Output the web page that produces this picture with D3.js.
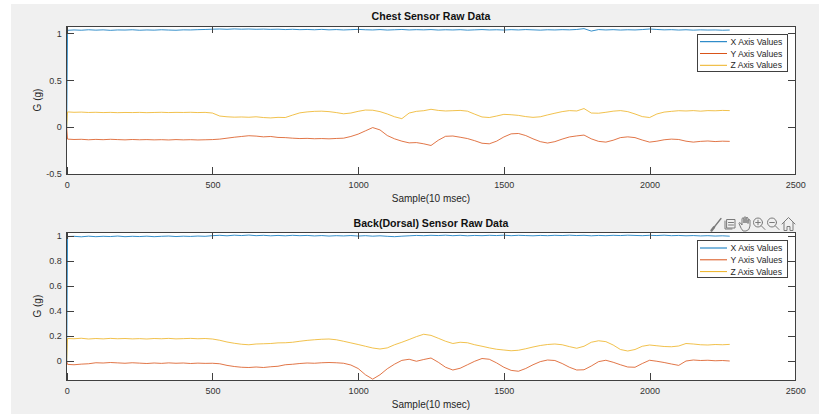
<!DOCTYPE html>
<html>
<head>
<meta charset="utf-8">
<script src="https://cdn.jsdelivr.net/npm/d3@7"></script>
<style>
  body { margin: 0; background: #fff; }
  svg { display: block; font-family: 'Liberation Sans', Arial, sans-serif; }
</style>
</head>
<body>
<div id="chart"></div>
<script>
// Sensor raw data (G), one value per listed sample index
const sampleIdx = [0, 3].concat(d3.range(25, 2276, 25))

const seriesNames = ['X Axis Values', 'Y Axis Values', 'Z Axis Values']
const seriesColors = ['#0072BD', '#D95319', '#EDB120']

const xTicks = [0, 500, 1000, 1500, 2000, 2500]
const chestYTicks = [-0.5, 0, 0.5, 1]
const backYTicks = [0, 0.2, 0.4, 0.6, 0.8, 1]

const chestX = [
  0, 1.032, 1.036, 1.033, 1.038, 1.034, 1.037, 1.032, 1.036, 1.035,
  1.038, 1.033, 1.036, 1.034, 1.038, 1.035, 1.033, 1.037, 1.036, 1.039,
  1.041, 1.044, 1.046, 1.043, 1.047, 1.044, 1.046, 1.043, 1.045, 1.042,
  1.044, 1.040, 1.043, 1.039, 1.041, 1.038, 1.042, 1.037, 1.040, 1.036,
  1.039, 1.042, 1.038, 1.036, 1.040, 1.035, 1.038, 1.041, 1.036, 1.039,
  1.037, 1.040, 1.035, 1.038, 1.036, 1.039, 1.034, 1.037, 1.040, 1.036,
  1.038, 1.035, 1.039, 1.036, 1.040, 1.037, 1.034, 1.038, 1.036, 1.039,
  1.037, 1.041, 1.050, 1.024, 1.040, 1.036, 1.039, 1.035, 1.038, 1.036,
  1.040, 1.046, 1.041, 1.037, 1.039, 1.035, 1.038, 1.034, 1.037, 1.035,
  1.036, 1.033, 1.035
]
const chestY = [
  0, -0.128, -0.132, -0.130, -0.135, -0.131, -0.134, -0.130, -0.133, -0.136,
  -0.132, -0.135, -0.133, -0.136, -0.134, -0.137, -0.133, -0.136, -0.134, -0.137,
  -0.135, -0.133, -0.128, -0.118, -0.108, -0.100, -0.092, -0.096, -0.104, -0.100,
  -0.110, -0.112, -0.118, -0.122, -0.120, -0.124, -0.122, -0.125, -0.121, -0.118,
  -0.100, -0.075, -0.040, -0.005, -0.030, -0.090, -0.125, -0.150, -0.168, -0.165,
  -0.178, -0.196, -0.140, -0.098, -0.095, -0.108, -0.122, -0.145, -0.172, -0.178,
  -0.150, -0.105, -0.072, -0.068, -0.090, -0.125, -0.155, -0.170, -0.155, -0.128,
  -0.105, -0.094, -0.085, -0.125, -0.152, -0.160, -0.140, -0.112, -0.104, -0.112,
  -0.138, -0.160, -0.150, -0.135, -0.128, -0.132, -0.150, -0.160, -0.152, -0.148,
  -0.154, -0.150, -0.152
]
const chestZ = [
  0, 0.162, 0.158, 0.160, 0.156, 0.158, 0.155, 0.157, 0.154, 0.156,
  0.155, 0.157, 0.154, 0.156, 0.158, 0.155, 0.157, 0.156, 0.158, 0.155,
  0.157, 0.150, 0.118, 0.110, 0.106, 0.108, 0.105, 0.110, 0.102, 0.098,
  0.104, 0.102, 0.128, 0.152, 0.162, 0.168, 0.170, 0.165, 0.155, 0.142,
  0.150, 0.168, 0.182, 0.180, 0.165, 0.140, 0.110, 0.090, 0.150, 0.168,
  0.175, 0.190, 0.178, 0.172, 0.175, 0.178, 0.170, 0.138, 0.108, 0.102,
  0.118, 0.136, 0.132, 0.125, 0.112, 0.104, 0.110, 0.130, 0.148, 0.165,
  0.176, 0.172, 0.198, 0.150, 0.148, 0.158, 0.170, 0.176, 0.165, 0.140,
  0.112, 0.102, 0.140, 0.160, 0.168, 0.175, 0.172, 0.176, 0.170, 0.176,
  0.174, 0.178, 0.176
]

const backX = [
  0, 0.996, 0.998, 0.994, 0.999, 0.995, 0.998, 0.996, 1.000, 0.995,
  0.998, 0.996, 0.999, 0.995, 0.998, 1.000, 0.996, 0.999, 0.997, 1.000,
  0.998, 1.003, 1.006, 1.002, 1.007, 1.004, 1.008, 1.003, 1.006, 1.002,
  1.005, 1.002, 1.006, 1.003, 1.005, 1.001, 1.004, 1.000, 1.003, 1.001,
  1.004, 1.000, 1.003, 0.999, 1.002, 0.998, 0.995, 0.999, 1.002, 1.005,
  1.003, 1.006, 1.004, 1.007, 1.003, 1.006, 1.002, 1.005, 1.003, 1.006,
  1.004, 1.007, 1.003, 1.006, 1.004, 1.002, 1.005, 1.003, 1.006, 1.004,
  1.007, 1.004, 1.006, 1.002, 1.005, 1.003, 1.006, 1.004, 1.007, 1.005,
  1.003, 1.006, 1.004, 1.007, 1.003, 1.005, 1.002, 1.004, 1.001, 1.003,
  1.000, 1.002, 0.999
]
const backY = [
  0, -0.027, -0.030, -0.025, -0.022, -0.014, -0.016, -0.012, -0.015, -0.018,
  -0.014, -0.017, -0.020, -0.016, -0.019, -0.015, -0.018, -0.016, -0.020, -0.017,
  -0.019, -0.018, -0.022, -0.035, -0.044, -0.050, -0.052, -0.048, -0.052, -0.046,
  -0.042, -0.030, -0.026, -0.020, -0.016, -0.018, -0.014, -0.012, -0.014, -0.018,
  -0.032, -0.060, -0.110, -0.145, -0.110, -0.062, -0.025, 0.005, 0.014, -0.002,
  0.012, 0.024, -0.010, -0.050, -0.072, -0.058, -0.030, -0.002, 0.020, 0.014,
  -0.015, -0.050, -0.075, -0.082, -0.060, -0.030, -0.005, 0.008, 0.004, -0.020,
  -0.050, -0.072, -0.070, -0.040, -0.005, 0.006, -0.010, -0.030, -0.048, -0.050,
  -0.020, 0.006, -0.002, -0.012, -0.024, -0.035, 0.000, 0.008, 0.004, 0.006,
  0.002, 0.004, 0.000
]
const backZ = [
  0, 0.180, 0.178, 0.182, 0.176, 0.180, 0.177, 0.181, 0.178, 0.180,
  0.177, 0.179, 0.176, 0.180, 0.178, 0.181, 0.177, 0.179, 0.181, 0.178,
  0.180, 0.176, 0.166, 0.152, 0.142, 0.134, 0.130, 0.136, 0.138, 0.140,
  0.145, 0.146, 0.150, 0.158, 0.165, 0.170, 0.174, 0.176, 0.170, 0.158,
  0.145, 0.132, 0.118, 0.104, 0.096, 0.105, 0.130, 0.150, 0.172, 0.195,
  0.214, 0.205, 0.182, 0.158, 0.140, 0.150, 0.146, 0.130, 0.118, 0.105,
  0.094, 0.088, 0.082, 0.086, 0.098, 0.112, 0.124, 0.132, 0.136, 0.130,
  0.115, 0.102, 0.118, 0.150, 0.162, 0.155, 0.128, 0.092, 0.080, 0.092,
  0.118, 0.128, 0.122, 0.116, 0.114, 0.120, 0.140, 0.136, 0.130, 0.128,
  0.132, 0.130, 0.133
]

const width = 822
const height = 414
const axisColor = '#404040'

const svg = d3.select('#chart')
  .append('svg')
  .attr('width', width)
  .attr('height', height)

// figure background
svg.append('rect')
  .attr('x', 11).attr('y', 4)
  .attr('width', 808).attr('height', height - 4)
  .attr('fill', '#f0f0f0')

function drawPanel(cfg, idx) {
  const x = d3.scaleLinear().domain([0, 2500]).range([66.7, 795.3])
  const y = d3.scaleLinear().domain(cfg.yDomain).range([cfg.bottom, cfg.top])
  const g = svg.append('g')

  g.append('rect')
    .attr('x', x.range()[0]).attr('y', cfg.top)
    .attr('width', x.range()[1] - x.range()[0])
    .attr('height', cfg.bottom - cfg.top)
    .attr('fill', '#fff')

  g.append('clipPath').attr('id', 'clip' + idx)
    .append('rect')
    .attr('x', x.range()[0]).attr('y', cfg.top)
    .attr('width', x.range()[1] - x.range()[0])
    .attr('height', cfg.bottom - cfg.top)

  const line = d3.line()
    .x((d, i) => x(sampleIdx[i]))
    .y(d => y(d))

  g.append('g').attr('clip-path', `url(#clip${idx})`)
    .selectAll('path')
    .data(cfg.series)
    .join('path')
    .attr('d', d => line(d))
    .attr('fill', 'none')
    .attr('stroke', (d, i) => seriesColors[i])
    .attr('stroke-width', 0.8)
    .attr('stroke-linejoin', 'round')

  const fmt = d => String(d)
  const axes = [
    { ax: d3.axisBottom(x).tickValues(xTicks).tickFormat(fmt).tickPadding(8), t: `translate(0,${cfg.bottom})` },
    { ax: d3.axisTop(x).tickValues(xTicks).tickFormat(''), t: `translate(0,${cfg.top})` },
    { ax: d3.axisLeft(y).tickValues(cfg.yTicks).tickFormat(fmt).tickPadding(5), t: `translate(${x.range()[0]},0)` },
    { ax: d3.axisRight(y).tickValues(cfg.yTicks).tickFormat(''), t: `translate(${x.range()[1]},0)` }
  ]
  axes.forEach(a => {
    const ag = g.append('g')
      .attr('transform', a.t)
      .call(a.ax.tickSizeInner(-7).tickSizeOuter(0))
    ag.select('.domain').remove()
    ag.selectAll('line').attr('stroke', axisColor).attr('shape-rendering', 'crispEdges')
    ag.selectAll('text').attr('fill', '#333').style('font-size', '9px')
      .style('font-family', "'Liberation Sans', Arial, sans-serif")
  })

  g.append('rect')
    .attr('x', x.range()[0]).attr('y', cfg.top)
    .attr('width', x.range()[1] - x.range()[0])
    .attr('height', cfg.bottom - cfg.top)
    .attr('fill', 'none')
    .attr('stroke', axisColor)
    .attr('shape-rendering', 'crispEdges')

  // title and axis labels
  g.append('text')
    .text(cfg.title)
    .attr('x', 431).attr('y', cfg.top - 5.7)
    .attr('text-anchor', 'middle')
    .style('font-size', '10.6px').style('font-weight', 'bold')
    .attr('fill', '#111')

  g.append('text')
    .text('Sample(10 msec)')
    .attr('x', 431).attr('y', cfg.bottom + 27.5)
    .attr('text-anchor', 'middle')
    .style('font-size', '10px')
    .attr('fill', '#262626')

  g.append('text')
    .text('G (g)')
    .attr('transform', `translate(40.5,${(cfg.top + cfg.bottom) / 2}) rotate(-90)`)
    .attr('text-anchor', 'middle')
    .style('font-size', '10px')
    .attr('fill', '#262626')

  // legend
  const lg = g.append('g').attr('transform', `translate(697,${cfg.top + 8})`)
  lg.append('rect')
    .attr('width', 90).attr('height', 37.5)
    .attr('fill', '#fff')
    .attr('stroke', axisColor)
    .attr('shape-rendering', 'crispEdges')
  const rows = lg.selectAll('g.row')
    .data(seriesNames)
    .join('g')
    .attr('class', 'row')
    .attr('transform', (d, i) => `translate(0,${7.7 + i * 11.8})`)
  rows.append('line')
    .attr('x1', 3).attr('x2', 30)
    .attr('stroke', (d, i) => seriesColors[i])
    .attr('stroke-width', 1)
  rows.append('text')
    .text(d => d)
    .attr('x', 33.5).attr('dy', '0.35em')
    .style('font-size', '8.6px')
    .attr('fill', '#262626')
}

drawPanel({
  title: 'Chest Sensor Raw Data',
  top: 26, bottom: 174,
  yDomain: [-0.5, 1.078],
  yTicks: chestYTicks,
  series: [chestX, chestY, chestZ]
}, 0)

drawPanel({
  title: 'Back(Dorsal) Sensor Raw Data',
  top: 232.3, bottom: 380,
  yDomain: [-0.152, 1.03],
  yTicks: backYTicks,
  series: [backX, backY, backZ]
}, 1)

// axes toolbar (bottom plot)
const tb = svg.append('g')
  .attr('fill', 'none')
  .attr('stroke', '#7a7a7a')
  .attr('stroke-width', 1)
  .attr('stroke-linecap', 'round')
  .attr('stroke-linejoin', 'round')
// brush
tb.append('path').attr('d', 'M713.5,228 L721,218.5').attr('stroke-width', 1.3)
tb.append('path').attr('d', 'M711.5,230.5 L714,227.2').attr('stroke-width', 2.4)
// data tip
tb.append('path').attr('d', 'M727,219.5 h8 v8.5 h-8 Z M728.5,222.5 h5 M728.5,225 h5 M725,221 v8 h7')
// pan (hand)
tb.append('path').attr('d', 'M741,228 L739,223.5 Q739,222 740.5,223 L742,225 V218.5 Q743,217 744,218.5 V223 V217.5 Q745,216 746,217.5 V223 V218 Q747,216.8 748,218 V223.5 V220 Q749,219 750,220 V226 Q749.5,230.5 746,231 H743.5 Z')
// zoom in
tb.append('circle').attr('cx', 758).attr('cy', 222.5).attr('r', 4.5)
tb.append('path').attr('d', 'M761.3,225.8 L765,229.5 M755.7,222.5 h4.6 M758,220.2 v4.6')
// zoom out
tb.append('circle').attr('cx', 772).attr('cy', 222.5).attr('r', 4.5)
tb.append('path').attr('d', 'M775.3,225.8 L779,229.5 M769.7,222.5 h4.6')
// home
tb.append('path').attr('d', 'M782,224 L788.5,217.5 L795,224 M784,222.5 V230.5 H787 V226.5 H790 V230.5 H793 V222.5')
</script>
</body>
</html>
